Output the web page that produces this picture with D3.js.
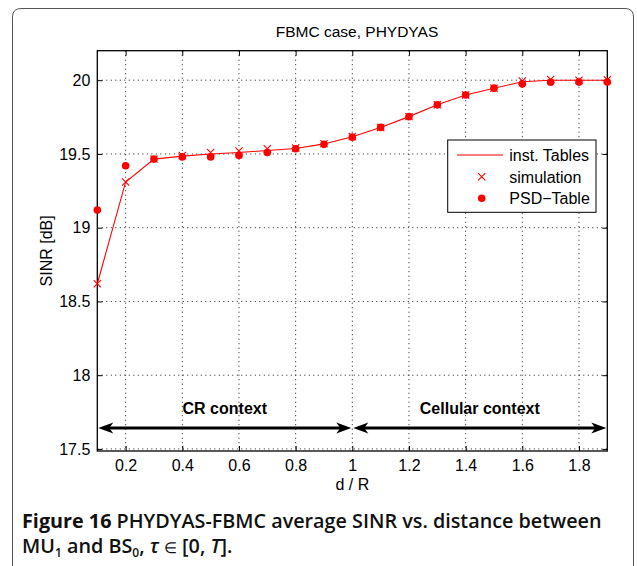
<!DOCTYPE html>
<html><head><meta charset="utf-8">
<script src="https://cdn.jsdelivr.net/npm/d3@7"></script>
<style>
html,body{margin:0;padding:0;background:#fff;}
svg{display:block;}
</style></head>
<body>
<svg id="chart" width="637" height="566"></svg>
<script>
// ---- data ----
const distance = [0.1,0.2,0.3,0.4,0.5,0.6,0.7,0.8,0.9,1.0,1.1,1.2,1.3,1.4,1.5,1.6,1.7,1.8,1.9];
const instTables = [18.62,19.31,19.465,19.485,19.50,19.51,19.523,19.537,19.568,19.616,19.68,19.753,19.833,19.90,19.946,19.99,20.0,20.0,20.0];
const simulation = [18.62,19.31,19.465,19.49,19.51,19.52,19.535,19.54,19.57,19.618,19.68,19.753,19.833,19.90,19.946,19.995,20.005,20.0,20.003];
const psdTable = [19.12,19.42,19.465,19.48,19.48,19.49,19.51,19.535,19.565,19.614,19.68,19.753,19.833,19.90,19.946,19.975,19.986,19.987,19.987];
const xTicks = [0.2,0.4,0.6,0.8,1.0,1.2,1.4,1.6,1.8];
const yTicks = [17.5,18,18.5,19,19.5,20];
const legendLabels = ["inst. Tables","simulation","PSD\u2212Table"];
const contexts = [
  {label:"CR context", from:0.1, to:1.0},
  {label:"Cellular context", from:1.0, to:1.9}
];
const arrowLevel = 17.642;
const labelLevel = 17.74;

// ---- layout ----
const svg = d3.select("#chart");
const L = 97.3, R = 607.3, T = 50.7, B = 451;
const x = d3.scaleLinear().domain([0.1,1.9]).range([L,R]);
const y = d3.scaleLinear().domain([17.486,20.2]).range([B,T]);
const font = "'Liberation Sans', Arial, Helvetica, sans-serif";
const fs = 16;

// outer frame (rounded, open at bottom)
svg.append("path")
  .attr("d","M12.5,600 L12.5,17 Q12.5,8.5 21,8.5 L625,8.5 Q633.5,8.5 633.5,17 L633.5,600")
  .attr("fill","none").attr("stroke","#555").attr("stroke-width",1);

// grid
const g = svg.append("g");
g.selectAll("line.gx").data(xTicks).enter().append("line")
  .attr("x1",d=>x(d)).attr("x2",d=>x(d)).attr("y1",T).attr("y2",B)
  .attr("stroke","#000").attr("stroke-width",0.9).attr("stroke-dasharray","1,3.5");
g.selectAll("line.gy").data(yTicks).enter().append("line")
  .attr("y1",d=>y(d)).attr("y2",d=>y(d)).attr("x1",L).attr("x2",R)
  .attr("stroke","#000").attr("stroke-width",0.9).attr("stroke-dasharray","1,3.5");

// axes (inward ticks)
const axB = d3.axisBottom(x).tickValues(xTicks).tickSize(-5).tickPadding(9).tickFormat(d3.format("~g"));
const axT = d3.axisTop(x).tickValues(xTicks).tickSize(-5).tickFormat("");
const axL = d3.axisLeft(y).tickValues(yTicks).tickSize(-5).tickPadding(7).tickFormat(d3.format("~g"));
const axR = d3.axisRight(y).tickValues(yTicks).tickSize(-5).tickFormat("");
function styleAxis(sel){
  sel.select(".domain").remove();
  sel.selectAll(".tick line").attr("stroke","#000");
  sel.selectAll(".tick text").attr("font-family",font).attr("font-size",fs).attr("fill","#000");
}
svg.append("g").attr("transform",`translate(0,${B})`).call(axB).call(styleAxis);
svg.append("g").attr("transform",`translate(0,${T})`).call(axT).call(styleAxis);
svg.append("g").attr("transform",`translate(${L},0)`).call(axL).call(styleAxis);
svg.append("g").attr("transform",`translate(${R},0)`).call(axR).call(styleAxis);
svg.append("rect").attr("x",L).attr("y",T).attr("width",R-L).attr("height",B-T)
  .attr("fill","none").attr("stroke","#000").attr("stroke-width",1.3);

// series
const red = "#ff0000";
const line = d3.line().x((d,i)=>x(distance[i])).y(d=>y(d));
svg.append("path").datum(instTables).attr("d",line).attr("fill","none").attr("stroke",red).attr("stroke-width",1.1);
svg.selectAll("path.sim").data(simulation).enter().append("path")
  .attr("d",(d,i)=>{const cx=x(distance[i]),cy=y(d),s=3.6;return `M${cx-s},${cy-s}L${cx+s},${cy+s}M${cx-s},${cy+s}L${cx+s},${cy-s}`;})
  .attr("stroke",red).attr("stroke-width",1.1).attr("fill","none");
svg.selectAll("circle.psd").data(psdTable).enter().append("circle")
  .attr("cx",(d,i)=>x(distance[i])).attr("cy",d=>y(d)).attr("r",3.8).attr("fill",red);

// context arrows
function head(tipX, tipY, dir){ // dir = +1 pointing right, -1 pointing left
  const len=15, hw=5.5, back=4;
  return `M${tipX},${tipY} L${tipX-dir*len},${tipY-hw} L${tipX-dir*(len-back)},${tipY} L${tipX-dir*len},${tipY+hw} Z`;
}
contexts.forEach(c=>{
  const x1=x(c.from), x2=x(c.to), yy=y(arrowLevel);
  svg.append("line").attr("x1",x1+6).attr("x2",x2-6).attr("y1",yy).attr("y2",yy)
    .attr("stroke","#000").attr("stroke-width",3);
  svg.append("path").attr("d",head(x1+1,yy,-1)).attr("fill","#000");
  svg.append("path").attr("d",head(x2-1,yy,1)).attr("fill","#000");
  svg.append("text").attr("x",(x1+x2)/2).attr("y",y(labelLevel)).attr("text-anchor","middle")
    .attr("font-family",font).attr("font-weight","bold").attr("font-size",fs).text(c.label);
});

// legend
const lg = svg.append("g");
lg.append("rect").attr("x",447.7).attr("y",140).attr("width",148.3).attr("height",72.3)
  .attr("fill","#fff").attr("stroke","#000").attr("stroke-width",1);
const ly = [155,176.7,198.3];
lg.append("line").attr("x1",457).attr("x2",503).attr("y1",ly[0]).attr("y2",ly[0]).attr("stroke",red).attr("stroke-width",1.1);
lg.append("path").attr("d",`M${481.7-3.6},${ly[1]-3.6}L${481.7+3.6},${ly[1]+3.6}M${481.7-3.6},${ly[1]+3.6}L${481.7+3.6},${ly[1]-3.6}`)
  .attr("stroke",red).attr("stroke-width",1.1);
lg.append("circle").attr("cx",481.7).attr("cy",ly[2]).attr("r",3.8).attr("fill",red);
lg.selectAll("text").data(legendLabels).enter().append("text")
  .attr("x",509.3).attr("y",(d,i)=>ly[i]+6).attr("font-family",font).attr("font-size",fs).text(d=>d);

// titles
svg.append("text").attr("x",357).attr("y",37).attr("text-anchor","middle")
  .attr("font-family",font).attr("font-size",15.5).text("FBMC case, PHYDYAS");
svg.append("text").attr("x",(L+R)/2).attr("y",490).attr("text-anchor","middle")
  .attr("font-family",font).attr("font-size",fs).text("d / R");
svg.append("text").attr("transform",`translate(52,${(T+B)/2}) rotate(-90)`).attr("text-anchor","middle")
  .attr("font-family",font).attr("font-size",fs).text("SINR [dB]");

// caption
const capFont = "'Open Sans', 'Noto Sans', sans-serif";
const cap1 = svg.append("text").attr("x",22).attr("y",528).attr("font-family",capFont).attr("font-size",18.5).attr("fill","#111");
cap1.append("tspan").attr("font-weight",700).text("Figure 16 ");
cap1.append("tspan").attr("font-weight",600).text("PHYDYAS-FBMC average SINR vs. distance between");
const cap2 = svg.append("text").attr("x",22).attr("y",553).attr("font-family",capFont).attr("font-size",18.5).attr("font-weight",600).attr("fill","#111");
cap2.append("tspan").text("MU");
cap2.append("tspan").attr("font-size",12).attr("dy",4).text("1");
cap2.append("tspan").attr("dy",-4).text(" and BS");
cap2.append("tspan").attr("font-size",12).attr("dy",4).text("0");
cap2.append("tspan").attr("dy",-4).text(", ");
cap2.append("tspan").attr("font-style","italic").text("\u03c4");
cap2.append("tspan").text(" ");
cap2.append("tspan").attr("font-size",15).attr("font-weight",400).text("\u2208");
cap2.append("tspan").text(" [0, ");
cap2.append("tspan").attr("font-style","italic").text("T");
cap2.append("tspan").text("].");
// fit caption line 1 width to reference (~580px)
const w1 = cap1.node().getComputedTextLength();
const target = 580;
if (w1 > 0) {
  const f = 18.5*target/w1;
  cap1.attr("font-size",f); cap2.attr("font-size",f);
}
</script>
</body></html>
